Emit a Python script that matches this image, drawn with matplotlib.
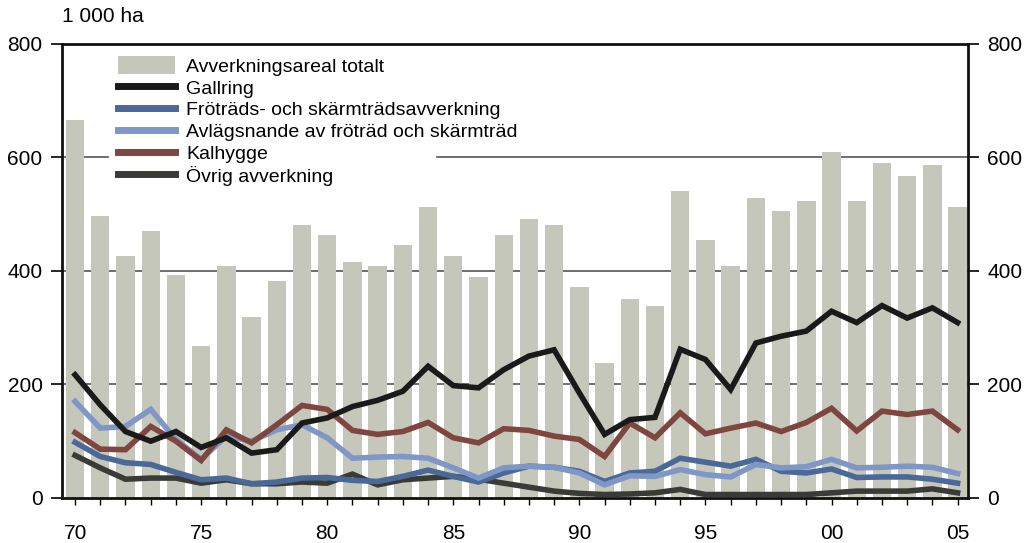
import numpy as np
import matplotlib
matplotlib.use("Agg")
import matplotlib.pyplot as plt
from matplotlib.patches import Patch
from matplotlib.lines import Line2D

plt.rcParams['font.family'] = ['Liberation Sans Narrow', 'Liberation Sans', 'DejaVu Sans']

years = np.arange(1970, 2006)

# Avverkningsareal totalt (1 000 ha)
totalt = [666, 497, 426, 471, 393, 268, 409, 318, 383, 481,
          464, 416, 408, 446, 513, 427, 390, 464, 492, 481,
          372, 237, 351, 339, 541, 455, 408, 529, 506, 524,
          610, 524, 591, 568, 587, 512]

gallring = [217, 164, 117, 100, 117, 89, 106, 79, 85, 132,
            141, 161, 172, 188, 232, 198, 194, 226, 250, 261,
            185, 112, 138, 142, 262, 244, 191, 273, 285, 294,
            329, 309, 339, 317, 335, 309]

frotrad = [98, 73, 62, 59, 45, 32, 35, 25, 28, 35,
           36, 31, 29, 38, 49, 38, 28, 44, 56, 54,
           47, 29, 44, 47, 70, 63, 56, 68, 47, 44,
           51, 36, 37, 37, 33, 26]

avlagsnande = [170, 123, 126, 156, 103, 68, 109, 100, 120, 129,
               106, 70, 72, 73, 70, 53, 35, 53, 56, 54,
               44, 23, 39, 38, 50, 41, 37, 59, 53, 55,
               68, 53, 54, 56, 54, 43]

kalhygge = [115, 86, 85, 126, 100, 66, 120, 97, 129, 163,
            156, 119, 112, 117, 133, 106, 97, 122, 119, 109,
            103, 73, 132, 106, 150, 113, 123, 132, 117, 133,
            158, 118, 153, 147, 153, 120]

ovrig = [75, 53, 33, 35, 35, 26, 32, 25, 25, 28,
         26, 42, 23, 32, 35, 38, 33, 26, 19, 12,
         8, 6, 7, 9, 15, 6, 6, 6, 6, 6,
         9, 12, 12, 12, 16, 9]

labels = ["Avverkningsareal totalt", "Gallring", "Fröträds- och skärmträdsavverkning",
          "Avlägsnande av fröträd och skärmträd", "Kalhygge", "Övrig avverkning"]
colors = ["#c4c7ba", "#1a1a1a", "#4a6898", "#7f97c6", "#7f4640", "#3a3a36"]

fig = plt.figure(figsize=(10.24, 5.43), dpi=100)
ax = fig.add_axes([0.0605, 0.083, 0.8845, 0.836])

# grid lines behind the bars (the 600 line is broken by the legend)
for g in [200, 400]:
    ax.axhline(g, color="#555555", lw=1.2, zorder=0)
ax.axhline(600, xmax=0.051, color="#555555", lw=1.2, zorder=0)
ax.axhline(600, xmin=0.414, color="#555555", lw=1.2, zorder=0)

ax.bar(years, totalt, width=0.73, color=colors[0], zorder=1)

series = [ovrig, frotrad, avlagsnande, kalhygge, gallring]
scols = [colors[5], colors[2], colors[3], colors[4], colors[1]]
for s, c in zip(series, scols):
    ax.plot(years, s, color=c, lw=4, solid_joinstyle="miter", zorder=3)

ax.set_xlim(1969.48, 2005.4)
ax.set_ylim(0, 800)
ax.set_yticks([0, 200, 400, 600, 800])
ax.set_xticks(years)
ax.set_xticklabels([("%02d" % (y % 100)) if y % 5 == 0 else "" for y in years])
ax.tick_params(axis="y", direction="out", length=8, width=1.2, labelsize=15,
               right=True, labelright=True, pad=6)
ax.tick_params(axis="x", direction="out", length=5, width=1.0, labelsize=15, pad=14)
for sp in ax.spines.values():
    sp.set_linewidth(2)
    sp.set_color("#111111")

ax.text(0.0, 1.04, "1 000 ha", transform=ax.transAxes, fontsize=15,
        ha="left", va="bottom")

handles = [Patch(facecolor=colors[0], edgecolor="none")]
handles += [Line2D([0], [0], color=c, lw=5) for c in colors[1:]]
leg = ax.legend(handles, labels, loc="upper left", bbox_to_anchor=(0.045, 1.007),
                fontsize=14, frameon=False, handlelength=2.9, handleheight=1.0,
                handletextpad=0.6, labelspacing=0.13, borderpad=0.3)
leg.set_zorder(5)

fig.savefig("out.png", dpi=100)
